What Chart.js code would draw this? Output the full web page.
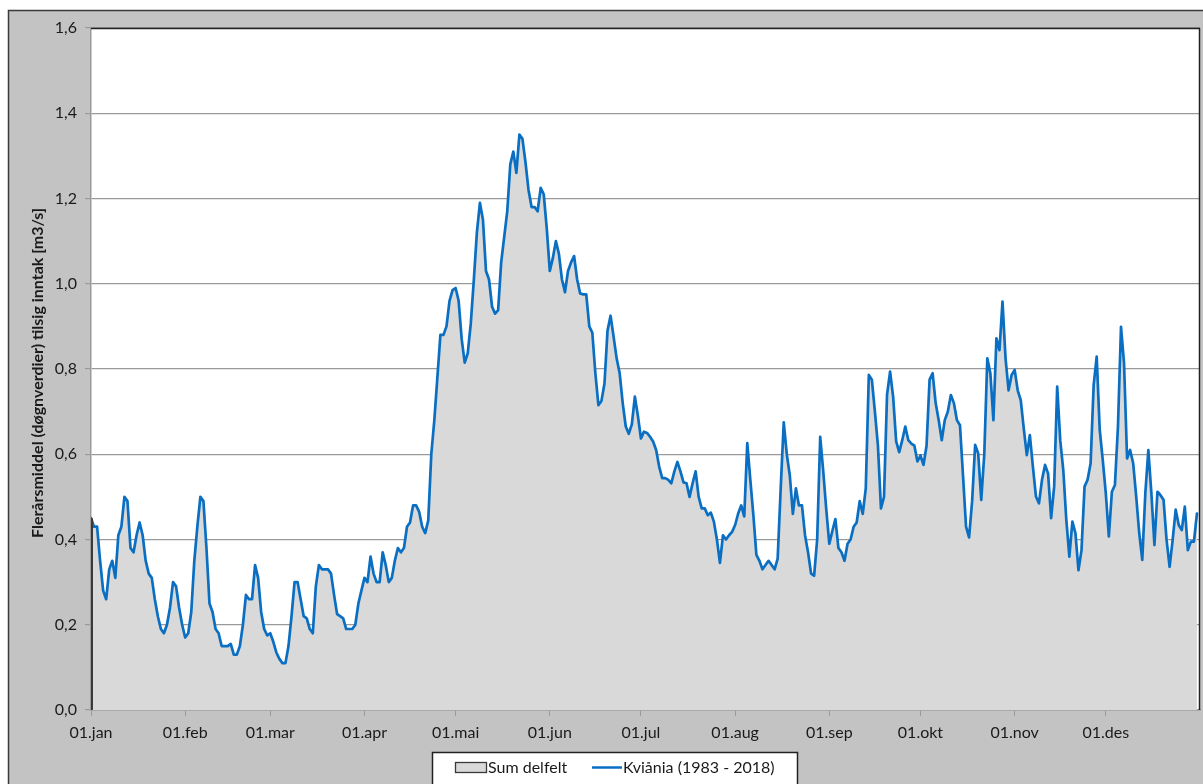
<!DOCTYPE html>
<html><head><meta charset="utf-8">
<script src="https://cdn.jsdelivr.net/npm/chart.js@4.4.1/dist/chart.umd.min.js"></script>
<style>html,body{margin:0;padding:0;background:#fff;}canvas{display:block;}</style>
</head><body>
<canvas id="c" width="1203" height="784"></canvas>
<script>
// ---- data ----
const monthLabels = ['01.jan','01.feb','01.mar','01.apr','01.mai','01.jun','01.jul','01.aug','01.sep','01.okt','01.nov','01.des'];
const monthStartDays = [0,31,59,90,120,151,181,212,243,273,304,334];
const yTickValues = [0,0.2,0.4,0.6,0.8,1.0,1.2,1.4,1.6];
const seriesNames = ['Sum delfelt','Kviånia (1983 - 2018)'];
const yAxisTitle = 'Flerårsmiddel (døgnverdier) tilsig inntak [m3/s]';

const jan = [0.45,0.43,0.43,0.35,0.28,0.26,0.33,0.35,0.31,0.41,0.43,0.50,0.49,0.38,0.37,0.41,0.44,0.41,0.35,0.32,0.31,0.26,0.22,0.19,0.18,0.20,0.24,0.30,0.29,0.24,0.20];
const feb = [0.17,0.18,0.23,0.35,0.43,0.50,0.49,0.38,0.25,0.23,0.19,0.18,0.15,0.15,0.15,0.155,0.13,0.13,0.15,0.20,0.27,0.26,0.26,0.34,0.31,0.23,0.19,0.175];
const mar = [0.18,0.16,0.135,0.12,0.11,0.11,0.15,0.22,0.30,0.30,0.26,0.22,0.215,0.19,0.18,0.29,0.34,0.33,0.33,0.33,0.32,0.27,0.225,0.22,0.215,0.19,0.19,0.19,0.20,0.25,0.28];
const apr = [0.31,0.30,0.36,0.32,0.30,0.30,0.37,0.34,0.30,0.31,0.35,0.38,0.37,0.38,0.43,0.44,0.48,0.48,0.465,0.43,0.415,0.445,0.60,0.68,0.78,0.88,0.88,0.90,0.96,0.985];
const mai = [0.99,0.96,0.87,0.815,0.837,0.907,1.009,1.12,1.19,1.15,1.03,1.01,0.946,0.93,0.938,1.05,1.11,1.17,1.28,1.31,1.26,1.35,1.34,1.285,1.22,1.18,1.18,1.17,1.225,1.21,1.13];
const jun = [1.03,1.06,1.10,1.07,1.01,0.98,1.03,1.05,1.065,1.01,0.977,0.975,0.975,0.90,0.885,0.79,0.715,0.725,0.766,0.89,0.925,0.876,0.825,0.79,0.72,0.665,0.648,0.67,0.735,0.69];
const jul = [0.637,0.653,0.65,0.641,0.63,0.61,0.571,0.544,0.544,0.54,0.532,0.56,0.582,0.56,0.534,0.532,0.50,0.532,0.56,0.50,0.473,0.473,0.457,0.463,0.442,0.40,0.345,0.41,0.40,0.41,0.418];
const aug = [0.434,0.461,0.48,0.454,0.626,0.54,0.457,0.364,0.35,0.33,0.34,0.35,0.34,0.33,0.355,0.52,0.675,0.60,0.55,0.46,0.52,0.48,0.48,0.41,0.37,0.32,0.315,0.40,0.641,0.56,0.47];
const sep = [0.39,0.42,0.448,0.38,0.37,0.35,0.39,0.40,0.43,0.44,0.49,0.46,0.52,0.786,0.775,0.70,0.62,0.473,0.50,0.74,0.794,0.735,0.63,0.605,0.633,0.665,0.633,0.625,0.62,0.583];
const okt = [0.597,0.575,0.62,0.775,0.79,0.72,0.68,0.633,0.68,0.70,0.739,0.72,0.68,0.668,0.55,0.43,0.405,0.49,0.622,0.602,0.493,0.60,0.825,0.79,0.68,0.872,0.844,0.958,0.825,0.75,0.786];
const nov = [0.798,0.75,0.727,0.66,0.598,0.645,0.571,0.501,0.485,0.54,0.575,0.555,0.45,0.524,0.759,0.633,0.563,0.446,0.36,0.442,0.415,0.328,0.375,0.524,0.540,0.579,0.762,0.829,0.657,0.586];
const des = [0.508,0.407,0.512,0.528,0.665,0.899,0.813,0.59,0.61,0.579,0.501,0.415,0.352,0.508,0.61,0.508,0.387,0.512,0.504,0.493,0.399,0.336,0.399,0.47,0.434,0.422,0.477,0.375,0.395,0.395,0.461];

const dailyFlow = [].concat(jan,feb,mar,apr,mai,jun,jul,aug,sep,okt,nov,des);
const points = dailyFlow.map((v,i)=>({x:i,y:v}));

// ---- styling ----
const FONT = 'Lato, "Open Sans", "Liberation Sans", sans-serif';
const TEXT = '#1a1a1a';
const GRID = '#9a9a9a';
const BLUE = '#0a6fc2';
const AREA = '#d9d9d9';
const EDGE = '#3a3a3a';

const frame = {
  id: 'frame',
  beforeDraw(chart){
    const ctx = chart.ctx, a = chart.chartArea;
    ctx.save();
    ctx.fillStyle = '#fff'; ctx.fillRect(0,0,chart.width,chart.height);
    ctx.fillStyle = '#c3c3c3'; ctx.fillRect(8,10,chart.width,chart.height);
    ctx.strokeStyle = EDGE; ctx.lineWidth = 1.5;
    ctx.strokeRect(8.5,10.5,chart.width+20,chart.height+20);
    ctx.fillStyle = '#fff'; ctx.fillRect(a.left,a.top,a.right-a.left,a.bottom-a.top);
    ctx.restore();
  },
  afterDraw(chart){
    const ctx = chart.ctx, a = chart.chartArea;
    const xs = chart.scales.x, ys = chart.scales.y;
    ctx.save();
    ctx.strokeStyle = '#222'; ctx.lineWidth = 1.5;
    ctx.beginPath(); ctx.moveTo(a.left, a.top+0.5); ctx.lineTo(a.right, a.top+0.5); ctx.stroke();
    ctx.beginPath(); ctx.moveTo(a.right-0.5, a.top); ctx.lineTo(a.right-0.5, a.bottom); ctx.stroke();
    ctx.strokeStyle = EDGE; ctx.lineWidth = 2;
    const x0 = xs.getPixelForValue(0), y0 = ys.getPixelForValue(dailyFlow[0]);
    ctx.beginPath(); ctx.moveTo(x0+1, ys.getPixelForValue(0)); ctx.lineTo(x0+1, y0); ctx.stroke();
    ctx.fillStyle = TEXT; ctx.font = 'bold 16px ' + FONT;
    ctx.translate(38, (a.top+a.bottom)/2 + 4); ctx.rotate(-Math.PI/2);
    ctx.textAlign = 'center'; ctx.textBaseline = 'middle';
    ctx.fillText(yAxisTitle, 0, 0);
    ctx.restore();
    // legend
    ctx.save();
    ctx.fillStyle = '#fff'; ctx.fillRect(432,752,365,40);
    ctx.strokeStyle = '#222'; ctx.lineWidth = 1.5; ctx.strokeRect(432.5,752.5,365,40);
    ctx.fillStyle = AREA; ctx.fillRect(455,762,31,10);
    ctx.strokeStyle = EDGE; ctx.lineWidth = 1.3; ctx.strokeRect(455.5,762.5,31,10);
    ctx.fillStyle = TEXT; ctx.font = '16px ' + FONT; ctx.textBaseline = 'middle'; ctx.textAlign = 'left';
    ctx.fillText(seriesNames[0], 488, 768);
    ctx.strokeStyle = BLUE; ctx.lineWidth = 2.5;
    ctx.beginPath(); ctx.moveTo(592,767.5); ctx.lineTo(622,767.5); ctx.stroke();
    ctx.fillText(seriesNames[1], 623, 768);
    ctx.restore();
  }
};

new Chart(document.getElementById('c'), {
  type: 'line',
  data: {
    datasets: [
      { label: seriesNames[1], data: points, borderColor: BLUE, borderWidth: 2.7, borderJoinStyle: 'round', borderCapStyle: 'round', pointRadius: 0, tension: 0, fill: false, order: 0 },
      { label: seriesNames[0], data: points, borderColor: AREA, backgroundColor: AREA, borderWidth: 0, pointRadius: 0, tension: 0, fill: 'origin', order: 1 }
    ]
  },
  options: {
    responsive: false,
    animation: false,
    devicePixelRatio: 1,
    layout: { padding: { left: 0, top: 28, right: 3, bottom: 0 } },
    plugins: { legend: { display: false }, tooltip: { enabled: false } },
    scales: {
      x: {
        type: 'linear', min: 0, max: 365,
        afterBuildTicks: s => { s.ticks = monthStartDays.map(v => ({ value: v })); },
        afterFit: s => { s.height = 74; },
        ticks: {
          autoSkip: false, maxRotation: 0, padding: 7, color: TEXT,
          font: { family: FONT, size: 16 },
          callback: v => monthLabels[monthStartDays.indexOf(v)]
        },
        grid: { drawOnChartArea: false, drawTicks: true, tickLength: 6, color: GRID },
        border: { display: true, color: GRID, width: 1.5 }
      },
      y: {
        min: 0, max: 1.6,
        afterBuildTicks: s => { s.ticks = yTickValues.map(v => ({ value: v })); },
        afterFit: s => { s.width = 91; },
        ticks: {
          padding: 8, color: TEXT, font: { family: FONT, size: 16 },
          callback: v => v.toFixed(1).replace('.', ',')
        },
        grid: { color: GRID, lineWidth: 1.2, tickLength: 6 },
        border: { display: true, color: GRID, width: 1.5 }
      }
    }
  },
  plugins: [frame]
});
</script>
</body></html>
